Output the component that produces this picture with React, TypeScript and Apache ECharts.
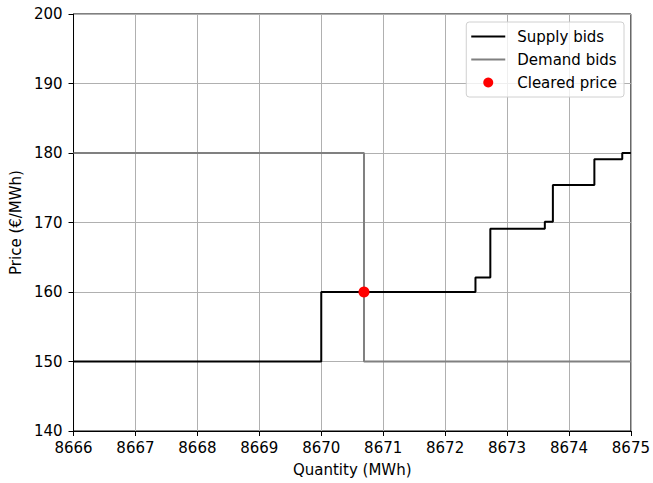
import React, { useEffect, useRef } from "react";
import * as echarts from "echarts";

const supplyQty = [8666, 8670, 8672.49, 8672.73, 8673.61, 8673.74, 8674.41, 8674.86, 8675];
const supplyPrice = [150, 160, 162.1, 169.1, 170.1, 175.4, 179.1, 180, 180];
const demandQty = [8666, 8670.69, 8675];
const demandPrice = [180, 150, 150];
const clearedQty = [8670.69];
const clearedPrice = [160];

const FONT = "DejaVu Sans";
const LINE_ICON = "path://M0,4 L34,4 L34,6 L0,6 Z";

export default function App() {
  const ref = useRef<HTMLDivElement>(null);
  useEffect(() => {
    const chart = echarts.init(ref.current!, null, { renderer: "svg" });
    chart.setOption({
      animation: false,
      backgroundColor: "#fff",
      textStyle: { fontFamily: FONT },
      grid: {
        left: 73,
        right: 21,
        top: 14,
        bottom: 52,
        show: true,
        borderColor: "#000",
        borderWidth: 1,
      },
      xAxis: {
        type: "value",
        min: 8666,
        max: 8675,
        interval: 1,
        name: "Quantity (MWh)",
        nameLocation: "middle",
        nameGap: 31,
        nameTextStyle: { fontSize: 15, color: "#000", fontFamily: FONT },
        axisLine: { show: true, onZero: false, lineStyle: { color: "#000", width: 1 } },
        axisTick: { show: true, length: 5, lineStyle: { color: "#000" } },
        axisLabel: {
          fontSize: 15,
          color: "#000",
          margin: 9,
          fontFamily: FONT,
          formatter: (v: number) => String(v),
        },
        splitLine: { show: true, lineStyle: { color: "#b0b0b0", width: 1 } },
      },
      yAxis: {
        type: "value",
        min: 140,
        max: 200,
        interval: 10,
        name: "Price (€/MWh)",
        nameLocation: "middle",
        nameGap: 46,
        nameTextStyle: { fontSize: 15, color: "#000", fontFamily: FONT },
        axisLine: { show: true, onZero: false, lineStyle: { color: "#000", width: 1 } },
        axisTick: { show: true, length: 5, lineStyle: { color: "#000" } },
        axisLabel: { fontSize: 15, color: "#000", margin: 11, fontFamily: FONT },
        splitLine: { show: true, lineStyle: { color: "#b0b0b0", width: 1 } },
      },
      legend: {
        orient: "vertical",
        right: 29,
        top: 22,
        padding: [7, 7, 7, 5],
        itemWidth: 34,
        itemHeight: 10,
        itemGap: 8,
        backgroundColor: "rgba(255,255,255,0.8)",
        borderColor: "#d0d0d0",
        borderWidth: 1,
        borderRadius: 3,
        textStyle: { fontSize: 15, color: "#000", fontFamily: FONT, padding: [0, 0, 0, 7] },
        data: [
          { name: "Supply bids", icon: LINE_ICON },
          { name: "Demand bids", icon: LINE_ICON },
          { name: "Cleared price", icon: "circle" },
        ],
      },
      series: [
        {
          name: "Supply bids",
          type: "line",
          step: "end",
          symbol: "none",
          data: supplyQty.map((q, i) => [q, supplyPrice[i]]),
          lineStyle: { color: "#000", width: 2 },
          itemStyle: { color: "#000" },
          z: 3,
        },
        {
          name: "Demand bids",
          type: "line",
          step: "end",
          symbol: "none",
          data: demandQty.map((q, i) => [q, demandPrice[i]]),
          lineStyle: { color: "#808080", width: 2 },
          itemStyle: { color: "#808080" },
          z: 2,
        },
        {
          name: "Cleared price",
          type: "scatter",
          symbol: "circle",
          symbolSize: 11,
          data: clearedQty.map((q, i) => [q, clearedPrice[i]]),
          itemStyle: { color: "#ff0000", opacity: 1 },
          z: 5,
        },
      ],
    });
    return () => chart.dispose();
  }, []);
  return (
    <div
      ref={ref}
      style={{ position: "fixed", left: 0, top: 0, width: 653, height: 483 }}
    />
  );
}
